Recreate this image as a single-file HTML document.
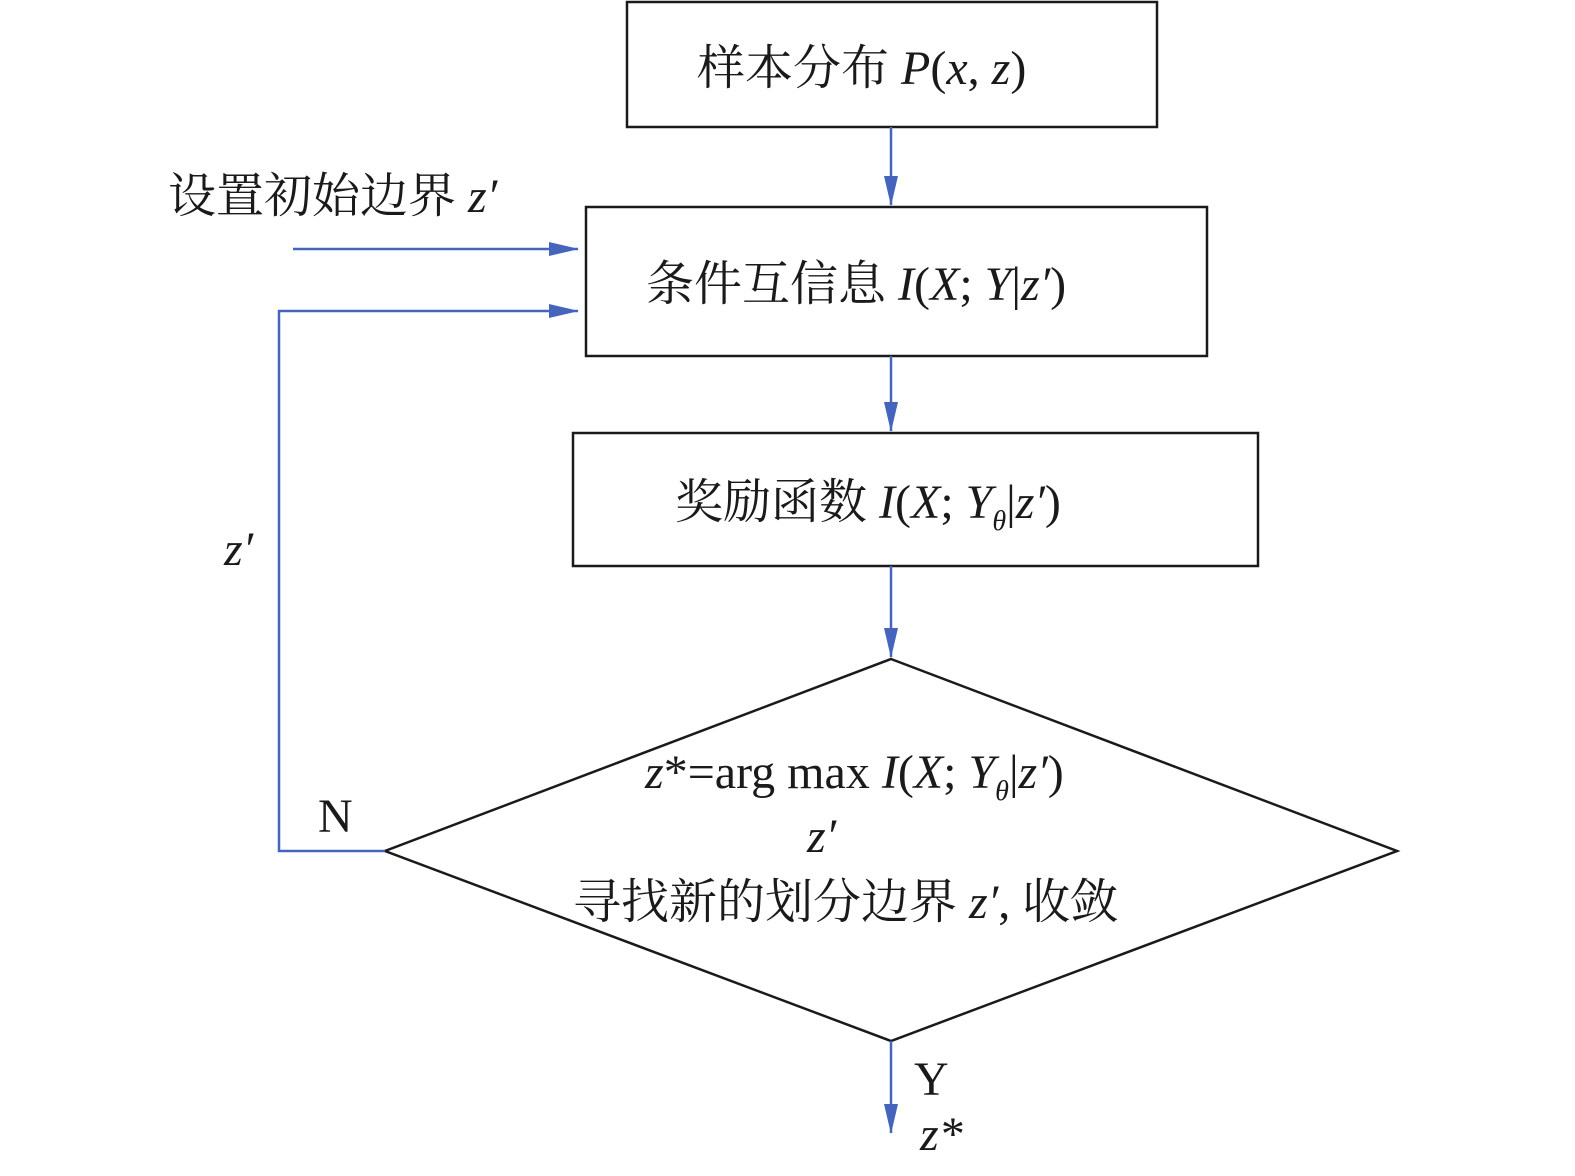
<!DOCTYPE html>
<html><head><meta charset="utf-8"><style>
html,body{margin:0;padding:0;background:#fff;}
svg{display:block;}
text{font-family:"Liberation Serif","Noto Serif CJK SC","Noto Sans CJK SC",serif;fill:#1a1a1a;}
.i{font-style:italic;}
</style></head><body>
<svg width="1575" height="1176" viewBox="0 0 1575 1176" xmlns="http://www.w3.org/2000/svg">
<defs>
<marker id="a" markerWidth="14" markerHeight="12" refX="13" refY="6" orient="auto" markerUnits="userSpaceOnUse">
<path d="M0,0 L14,6 L0,12 Z" fill="#4565bd"/>
</marker>
<marker id="b" markerWidth="30" markerHeight="14" refX="29" refY="7" orient="auto" markerUnits="userSpaceOnUse">
<path d="M0,0 L30,7 L0,14 Z" fill="#4565bd"/>
</marker>
</defs>
<g fill="none" stroke="#1a1a1a" stroke-width="2.5">
<rect x="627" y="2" width="530" height="125"/>
<rect x="586" y="207" width="621" height="149"/>
<rect x="573" y="433" width="685" height="133"/>
<path d="M891,659 L1397,851 L891,1041 L385,851 Z"/>
</g>
<g fill="none" stroke="#4565bd" stroke-width="2.5">
<line x1="891" y1="127" x2="891" y2="205" marker-end="url(#b)"/>
<line x1="891" y1="356" x2="891" y2="431" marker-end="url(#b)"/>
<line x1="891" y1="566" x2="891" y2="657" marker-end="url(#b)"/>
<line x1="891" y1="1041" x2="891" y2="1133" marker-end="url(#b)"/>
<line x1="293" y1="249" x2="578" y2="249" marker-end="url(#b)"/>
<polyline points="385,851 279,851 279,311 578,311" marker-end="url(#b)"/>
</g>
<g font-size="48">
<text x="697" y="84">样本分布 <tspan class="i">P</tspan>(<tspan class="i">x</tspan>, <tspan class="i">z</tspan>)</text>
<text x="168" y="212">设置初始边界 <tspan class="i">z′</tspan></text>
<text x="646" y="300">条件互信息 <tspan class="i">I</tspan>(<tspan class="i">X</tspan>; <tspan class="i">Y</tspan>|<tspan class="i">z′</tspan>)</text>
<text x="675" y="518">奖励函数 <tspan class="i">I</tspan>(<tspan class="i">X</tspan>; <tspan class="i">Y</tspan><tspan class="i" font-size="28" dy="12">θ</tspan><tspan dy="-12">|</tspan><tspan class="i">z′</tspan>)</text>
<text x="224" y="565" class="i">z′</text>
<text x="645" y="788"><tspan class="i">z</tspan>*=arg max <tspan class="i">I</tspan>(<tspan class="i">X</tspan>; <tspan class="i">Y</tspan><tspan class="i" font-size="28" dy="12">θ</tspan><tspan dy="-12">|</tspan><tspan class="i">z′</tspan>)</text>
<text x="807" y="852" class="i">z′</text>
<text x="318" y="832">N</text>
<text x="573" y="918">寻找新的划分边界 <tspan class="i">z′</tspan>, 收敛</text>
<text x="914" y="1095">Y</text>
<text x="920" y="1150" class="i">z*</text>
</g>
</svg>
</body></html>
